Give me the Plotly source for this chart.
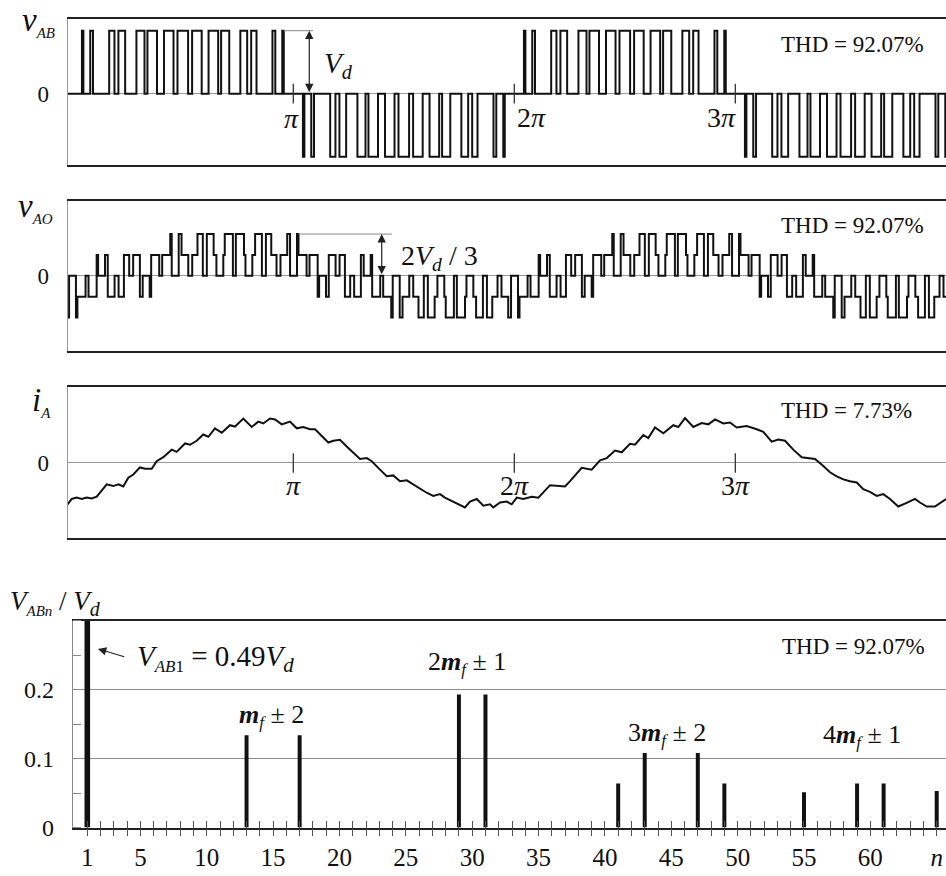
import plotly.graph_objects as go

# ---------------- data (angles in electrical degrees) ----------------
# v_AB : switching instants and levels (units of Vd)
vab_t = [-3.75, 7.84, 9.03, 14.62, 16.88, 30.04, 34.33, 37.56, 43.04, 52.23, 58.8, 61.2, 68.98, 74.66, 82.44,
         85.67, 94.31, 97.57, 105.38, 110.97, 118.8, 121.2, 127.84, 136.88, 142.43, 145.69, 150.04, 163.04,
         165.34, 171.02, 172.23,
         187.84, 189.03, 194.62, 196.88, 210.04, 214.33, 217.56, 223.04, 232.23, 238.8, 241.2, 248.98, 254.66,
         262.44, 265.67, 274.31, 277.57, 285.38, 290.97, 298.8, 301.2, 307.84, 316.88, 322.43, 325.69, 330.04,
         343.04, 345.34, 351.02, 352.23,
         367.84, 369.03, 374.62, 376.88, 390.04, 394.33, 397.56, 403.04, 412.23, 418.8, 421.2, 428.98, 434.66,
         442.44, 445.67, 454.31, 457.57, 465.38, 470.97, 478.8, 481.2, 487.84, 496.88, 502.43, 505.69, 510.04,
         523.04, 525.34, 531.02, 532.23,
         547.84, 549.03, 554.62, 556.88, 570.04, 574.33, 577.56, 583.04, 592.23, 598.8, 601.2, 608.98, 614.66,
         622.44, 625.67, 634.31, 637.57, 645.38, 650.97, 658.8, 661.2, 667.84, 676.88, 682.43, 685.69, 690.04,
         703.04, 705.34, 711.02, 711.6]
vab_v = [0, 1, 0, 1, 0, 1, 0, 1, 0, 1, 0, 1, 0, 1, 0,
         1, 0, 1, 0, 1, 0, 1, 0, 1, 0, 1, 0, 1,
         0, 1, 0,
         -1, 0, -1, 0, -1, 0, -1, 0, -1, 0, -1, 0, -1,
         0, -1, 0, -1, 0, -1, 0, -1, 0, -1, 0, -1, 0,
         -1, 0, -1, 0,
         1, 0, 1, 0, 1, 0, 1, 0, 1, 0, 1, 0, 1,
         0, 1, 0, 1, 0, 1, 0, 1, 0, 1, 0, 1, 0,
         1, 0, 1, 0,
         -1, 0, -1, 0, -1, 0, -1, 0, -1, 0, -1, 0, -1,
         0, -1, 0, -1, 0, -1, 0, -1, 0, -1, 0, -1, 0,
         -1, 0, -1, -1]

# v_AO : switching instants and levels (units of Vd/3)
vao_t = [-3.75, -2.62, 2.97, 4.16, 10.8, 13.2, 19.84, 21.03, 26.62, 28.88, 34.43, 37.69, 42.04, 46.33, 49.56,
         55.04, 57.34, 63.02, 64.23, 70.8, 73.2, 79.77, 80.98, 86.66, 88.96, 94.44, 97.67, 101.96, 106.31,
         109.57, 115.12, 117.38, 122.97, 124.16, 130.8, 133.2, 139.84, 141.03, 146.62, 148.88, 154.43, 157.69,
         162.04, 166.33, 169.56, 175.04, 177.34, 183.02, 184.23, 190.8,
         193.2, 199.84, 201.03, 206.62, 208.88, 214.43, 217.69, 222.04, 226.33, 229.56, 235.04, 237.34, 243.02,
         244.23, 250.8, 253.2, 259.77, 260.98, 266.66, 268.96, 274.44, 277.67, 281.96, 286.31, 289.57, 295.12,
         297.38, 302.97, 304.16, 310.8, 313.2, 319.84, 321.03, 326.62, 328.88, 334.43, 337.69, 342.04, 346.33,
         349.56, 355.04, 357.34, 363.02, 364.23, 370.8,
         373.2, 379.84, 381.03, 386.62, 388.88, 394.43, 397.69, 402.04, 406.33, 409.56, 415.04, 417.34, 423.02,
         424.23, 430.8, 433.2, 439.77, 440.98, 446.66, 448.96, 454.44, 457.67, 461.96, 466.31, 469.57, 475.12,
         477.38, 482.97, 484.16, 490.8, 493.2, 499.84, 501.03, 506.62, 508.88, 514.43, 517.69, 522.04, 526.33,
         529.56, 535.04, 537.34, 543.02, 544.23, 550.8,
         553.2, 559.84, 561.03, 566.62, 568.88, 574.43, 577.69, 582.04, 586.33, 589.56, 595.04, 597.34, 603.02,
         604.23, 610.8, 613.2, 619.77, 620.98, 626.66, 628.96, 634.44, 637.67, 641.96, 646.31, 649.57, 655.12,
         657.38, 662.97, 664.16, 670.8, 673.2, 679.84, 681.03, 686.62, 688.88, 694.43, 697.69, 702.04, 706.33,
         709.56, 711.6]
vao_v = [-2, 0, -2, -1, 0, -1, 1, 0, 1, -1, 0, -1, 1, 0, 1,
         -1, 0, -1, 1, 0, 1, 2, 0, 2, 1, 0, 1, 2, 0,
         2, 1, 0, 1, 2, 0, 2, 1, 0, 1, 2, 0, 2,
         1, 0, 1, 2, 0, 2, 1, 0,
         1, -1, 0, -1, 1, 0, 1, -1, 0, -1, 1, 0, 1,
         -1, 0, -1, -2, 0, -2, -1, 0, -1, -2, 0, -2, -1,
         0, -1, -2, 0, -2, -1, 0, -1, -2, 0, -2, -1, 0,
         -1, -2, 0, -2, -1, 0,
         -1, 1, 0, 1, -1, 0, -1, 1, 0, 1, -1, 0, -1,
         1, 0, 1, 2, 0, 2, 1, 0, 1, 2, 0, 2, 1,
         0, 1, 2, 0, 2, 1, 0, 1, 2, 0, 2, 1, 0,
         1, 2, 0, 2, 1, 0,
         1, -1, 0, -1, 1, 0, 1, -1, 0, -1, 1, 0, 1,
         -1, 0, -1, -2, 0, -2, -1, 0, -1, -2, 0, -2, -1,
         0, -1, -2, 0, -2, -1, 0, -1, -2, 0, -2, -1, 0,
         -1, -1]

# i_A : sampled current (normalised to peak)
ia_t = [-3.8, -0.5, 3.6, 7.7, 11.7, 15.8, 19.9, 24.0, 28.0, 33.4, 37.5, 41.5, 45.6, 49.7, 55.1, 59.2, 64.7,
        68.7, 74.1, 81.0, 85.0, 91.8, 95.9, 101.3, 106.7, 110.8, 116.2, 121.7, 128.4, 132.5, 139.3, 146.1,
        151.5, 155.6, 161.0, 165.1, 170.6, 177.3, 182.8, 188.1, 193.6, 197.7, 203.1, 208.5, 212.6, 218.0,
        223.5, 228.9, 234.3, 239.8, 243.9, 250.6, 256.1, 261.4, 266.9, 272.4, 277.7, 283.2, 288.6, 294.0,
        299.5, 303.5, 309.0, 314.4, 319.8, 323.9, 329.4, 334.8, 340.2, 342.9, 348.4, 353.8, 357.9, 362.0,
        367.3, 374.2, 379.6, 389.1, 394.5, 401.3, 405.4, 414.9, 423.0, 429.8, 435.3, 442.0, 447.5, 454.2,
        458.3, 465.1, 469.1, 474.6, 481.4, 489.5, 493.6, 499.0, 505.8, 512.6, 518.0, 523.5, 530.2, 535.7,
        541.1, 549.3, 557.4, 562.8, 569.6, 575.0, 580.5, 587.2, 594.1, 599.4, 604.9, 611.7, 617.1, 622.6,
        628.0, 633.4, 638.9, 644.2, 649.7, 655.2, 660.5, 666.0, 672.7, 679.6, 686.3, 690.4, 695.9, 702.6,
        708.1, 711.6]
ia_v = [-0.93, -0.81, -0.78, -0.81, -0.78, -0.80, -0.76, -0.63, -0.48, -0.52,
        -0.48, -0.53, -0.33, -0.26, -0.10, -0.13, -0.13, 0.04, 0.13, 0.30,
        0.25, 0.44, 0.41, 0.50, 0.64, 0.59, 0.78, 0.68, 0.85, 0.82,
        1.00, 0.81, 0.93, 0.89, 1.00, 0.98, 0.87, 0.93, 0.78, 0.81,
        0.76, 0.76, 0.61, 0.46, 0.50, 0.52, 0.37, 0.22, 0.09, 0.11,
        0.04, -0.15, -0.30, -0.28, -0.41, -0.39, -0.48, -0.59, -0.67, -0.74,
        -0.70, -0.78, -0.85, -0.93, -1.00, -0.87, -0.81, -0.96, -0.93, -1.00,
        -0.89, -0.87, -0.93, -0.78, -0.81, -0.76, -0.78, -0.50, -0.52, -0.53,
        -0.41, -0.11, -0.15, 0.06, 0.11, 0.28, 0.24, 0.43, 0.41, 0.63,
        0.56, 0.80, 0.67, 0.85, 0.81, 1.01, 0.81, 0.90, 0.87, 0.98,
        0.89, 0.91, 0.80, 0.83, 0.76, 0.70, 0.48, 0.53, 0.50, 0.30,
        0.13, 0.11, 0.09, -0.07, -0.21, -0.30, -0.37, -0.41, -0.44, -0.59,
        -0.65, -0.74, -0.70, -0.81, -0.98, -0.90, -0.81, -0.89, -0.98, -0.98,
        -0.87, -0.81]

# harmonic spectrum V_ABn / Vd
harm_n = [1, 13, 17, 29, 31, 41, 43, 47, 49, 55, 59, 61, 65]
harm_v = [0.49, 0.134, 0.134, 0.193, 0.193, 0.064, 0.108, 0.108, 0.064, 0.051, 0.064, 0.064, 0.053]

pi_ticks = [180, 360, 540]
pi_labels = ["<i>π</i>", "2<i>π</i>", "3<i>π</i>"]
n_labels = {1: "1", 5: "5", 10: "10", 15: "15", 20: "20", 25: "25", 30: "30", 35: "35",
            40: "40", 45: "45", 50: "50", 55: "55", 60: "60", 65: "<i>n</i>"}
thd_text = ["THD = 92.07%", "THD = 92.07%", "THD = 7.73%", "THD = 92.07%"]

# ---------------- figure ----------------
W, H = 946, 876
FONT = "Liberation Serif, Times New Roman, serif"
INK = "#111111"


def fx(p):
    return p / W


def fy(p):
    return 1 - p / H


fig = go.Figure()

line_kw = dict(color=INK, width=2)
fig.add_trace(go.Scatter(x=vab_t, y=vab_v, mode="lines", line=dict(shape="hv", **line_kw),
                         xaxis="x", yaxis="y", hoverinfo="skip"))
fig.add_trace(go.Scatter(x=vao_t, y=vao_v, mode="lines", line=dict(shape="hv", **line_kw),
                         xaxis="x2", yaxis="y2", hoverinfo="skip"))
fig.add_trace(go.Scatter(x=ia_t, y=ia_v, mode="lines", line=dict(shape="linear", **line_kw),
                         xaxis="x3", yaxis="y3", hoverinfo="skip"))
fig.add_trace(go.Bar(x=harm_n, y=harm_v, width=[0.42 if n == 1 else 0.3 for n in harm_n],
                     marker=dict(color=INK, line=dict(width=0)), xaxis="x4", yaxis="y4", hoverinfo="skip"))
# dummy trace to activate the overlay axis carrying the outside tick marks
fig.add_trace(go.Scatter(x=harm_n[:1], y=[0], mode="markers", marker=dict(opacity=0),
                         xaxis="x5", yaxis="y4", hoverinfo="skip"))
# small tick marks on the zero line at pi, 2pi, 3pi
for xa, ya in (("x", "y"), ("x3", "y3")):
    fig.add_trace(go.Scatter(x=pi_ticks, y=[0] * len(pi_ticks), mode="markers", cliponaxis=False,
                             marker=dict(symbol="line-ns", size=14, line=dict(width=1.3, color="#333")),
                             xaxis=xa, yaxis=ya, hoverinfo="skip"))

xr = [-3.75, 711.6]
xdom = [fx(67.7), 1.0]


def xax(anchor):
    return dict(domain=xdom, range=xr, anchor=anchor, showline=True, linecolor="#222", linewidth=1.5,
                mirror=True, showticklabels=False, ticks="", showgrid=False, zeroline=False, fixedrange=True)


def yax(top, bottom, rng, anchor):
    return dict(domain=[fy(bottom), fy(top)], range=rng, anchor=anchor, showline=True, linecolor="#999",
                linewidth=1, tickvals=[0], ticktext=["0"], ticks="", showgrid=False, zeroline=True,
                zerolinecolor="#9a9a9a", zerolinewidth=1, ticklabelstandoff=13,
                tickfont=dict(family=FONT, size=23, color=INK), fixedrange=True)


n_ticks = list(range(1, 66))
n_text = [n_labels.get(n, "") for n in n_ticks]
nr = [-0.1, 65.7]

fig.update_layout(
    width=W, height=H, margin=dict(l=0, r=0, t=0, b=0),
    paper_bgcolor="white", plot_bgcolor="white", showlegend=False,
    font=dict(family=FONT, color=INK),
    xaxis=xax("y"),
    yaxis=yax(19, 167, [-1.125, 1.19], "x"),
    xaxis2=xax("y2"),
    yaxis2=yax(204.3, 356.7, [-3.62, 3.57], "x2"),
    xaxis3=xax("y3"),
    yaxis3=yax(393.3, 545.7, [-1.68, 1.70], "x3"),
    xaxis4=dict(domain=[fx(72.7), 1.0], range=nr, anchor="y4", showline=True, linecolor="#222",
                linewidth=1.5, mirror=True, tickvals=n_ticks, ticktext=n_text, ticks="outside",
                ticklen=7, tickcolor="#555", tickwidth=1, showgrid=False, zeroline=False,
                tickfont=dict(family=FONT, size=25, color=INK), fixedrange=True),
    xaxis5=dict(overlaying="x4", anchor="y4", range=nr, tickvals=n_ticks, ticks="inside", ticklen=7,
                tickcolor="#555", tickwidth=1, showticklabels=False, showline=False, showgrid=False,
                zeroline=False, fixedrange=True),
    yaxis4=dict(domain=[fy(840), fy(630)], range=[0, 0.3], anchor="x4", showline=True, linecolor="#888",
                linewidth=1, tickvals=[0, 0.1, 0.2], ticktext=["0", "0.1", "0.2"], ticks="",
                showgrid=True, gridcolor="#8a8a8a", gridwidth=1, zeroline=False, ticklabelstandoff=13,
                minor=dict(ticks="inside", ticklen=8, dtick=0.05, tick0=0, tickcolor="#888", showgrid=False),
                tickfont=dict(family=FONT, size=24, color=INK), fixedrange=True),
)

ann = []


def text(t, x, y, xref, yref, size, xanchor="center", yanchor="middle", xshift=0, yshift=0):
    ann.append(dict(text=t, x=x, y=y, xref=xref, yref=yref, showarrow=False, xanchor=xanchor,
                    yanchor=yanchor, xshift=xshift, yshift=yshift,
                    font=dict(family=FONT, size=size, color=INK)))


def arrow(x, y, ax, ay, xref, yref, both=False):
    ann.append(dict(text="", x=x, y=y, ax=ax, ay=ay, xref=xref, yref=yref, axref=xref, ayref=yref,
                    showarrow=True, arrowhead=2, arrowsize=1.4, arrowwidth=1.2, arrowcolor="#222",
                    arrowside="end+start" if both else "end"))


def sub(t, size):
    return "<sub><span style='font-size:%dpx'>%s</span></sub>" % (size, t)


# panel titles
text("<i>v</i>" + sub("<i>AB</i>", 15), fx(20), fy(22), "paper", "paper", 33, "left")
text("<i>v</i>" + sub("<i>AO</i>", 15), fx(16), fy(211), "paper", "paper", 33, "left")
text("<i>i</i>" + sub("<i>A</i>", 15), fx(30), fy(408), "paper", "paper", 33, "left")
text("<i>V</i>" + sub("<i>ABn</i>", 15) + " / <i>V</i>" + sub("<i>d</i>", 20), fx(8), fy(612),
     "paper", "paper", 27, "left")

# THD labels
text(thd_text[0], 575.5, 0.78, "x", "y", 23, "left")
text(thd_text[1], 575.5, 2.4, "x2", "y2", 23, "left")
text(thd_text[2], 575.5, 1.18, "x3", "y3", 23, "left")
text(thd_text[3], 53.2, 0.262, "x4", "y4", 23, "left")

# pi labels
text(pi_labels[0], pi_ticks[0], 0, "x", "y", 28, "center", "middle", -2, -25)
text(pi_labels[1], pi_ticks[1], 0, "x", "y", 28, "left", "middle", 1, -24)
text(pi_labels[2], pi_ticks[2], 0, "x", "y", 28, "right", "middle", 3, -24)
for k in range(3):
    text(pi_labels[k], pi_ticks[k], 0, "x3", "y3", 28, "center", "middle", 0, -23)

# V_d marker in panel 1
fig.add_shape(type="line", x0=172.23, x1=196, y0=1, y1=1, xref="x", yref="y",
              line=dict(color="#888", width=1))
arrow(193, 1, 193, 0, "x", "y", both=True)
text("<i>V</i><sub><i>d</i></sub>", 216.6, 0.45, "x", "y", 29)

# 2Vd/3 marker in panel 2
fig.add_shape(type="line", x0=184.23, x1=260.4, y0=2, y1=2, xref="x2", yref="y2",
              line=dict(color="#888", width=1))
arrow(252, 2, 252, 0, "x2", "y2", both=True)
text("2<i>V</i><sub><i>d</i></sub> / 3", 266, 0.9, "x2", "y2", 28, "left")

# spectrum annotations
arrow(1.8, 0.259, 3.9, 0.247, "x4", "y4")
text("<i>V</i>" + sub("<i>AB</i>1", 17) + " = 0.49<i>V</i>" + sub("<i>d</i>", 21), 4.6, 0.245,
     "x4", "y4", 29, "left")
mf = "<b><i>m</i></b>" + sub("<i>f</i>", 17)
text(mf + " ± 2", 14.9, 0.162, "x4", "y4", 26)
text("2" + mf + " ± 1", 29.6, 0.238, "x4", "y4", 26)
text("3" + mf + " ± 2", 44.7, 0.136, "x4", "y4", 26)
text("4" + mf + " ± 1", 59.4, 0.133, "x4", "y4", 26)

fig.update_layout(annotations=ann)

fig.write_html("out.html", config={"displayModeBar": False})
